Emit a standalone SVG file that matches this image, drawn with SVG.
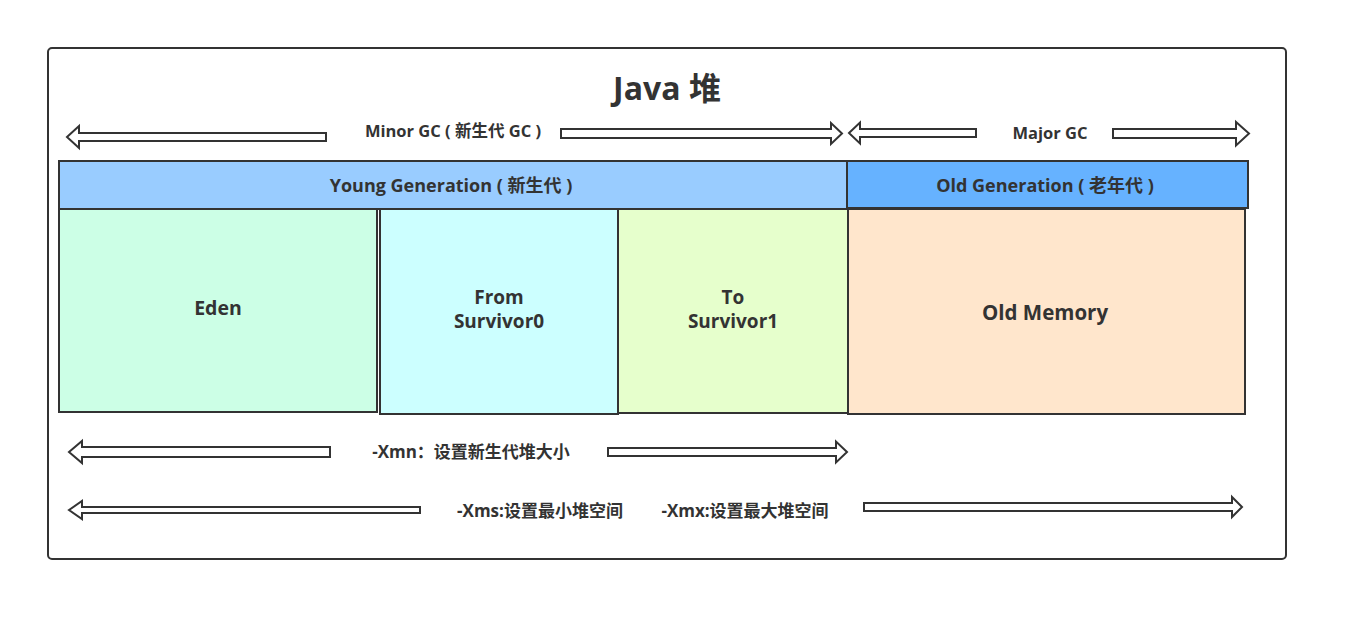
<svg xmlns="http://www.w3.org/2000/svg" width="1348" height="621" viewBox="0 0 1348 621">
<style>
.t{font-family:"Open Sans","Noto Sans CJK SC","Noto Sans",sans-serif;font-weight:bold;fill:#333;text-anchor:middle}
.box{stroke:#333;stroke-width:2}
.arr{fill:#fff;stroke:#333;stroke-width:2;stroke-linejoin:miter}
</style>
<rect width="1348" height="621" fill="#fff"/>
<g id="frame"><rect x="48" y="48" width="1238" height="511" rx="4" fill="#fff" stroke="#333" stroke-width="2"/></g>
<g id="title"><text class="t" x="667" y="100" font-size="32">Java 堆</text></g>
<g id="young-gen"><rect class="box" x="59" y="161" width="788" height="48" fill="#99CCFF"/><text class="t" x="451" y="192" font-size="18">Young Generation ( 新生代 )</text></g>
<g id="old-gen"><rect class="box" x="847" y="161" width="401" height="47" fill="#66B2FF"/><text class="t" x="1045" y="192" font-size="18">Old Generation ( 老年代 )</text></g>
<g id="eden"><rect class="box" x="59" y="209" width="318" height="203" fill="#CCFFE6"/><text class="t" x="218" y="315" font-size="19.5">Eden</text></g>
<g id="from"><rect class="box" x="380" y="209" width="238" height="205" fill="#CCFFFF"/><text class="t" x="499" y="304" font-size="19">From</text><text class="t" x="499" y="328" font-size="19">Survivor0</text></g>
<g id="to"><rect class="box" x="618" y="209" width="230" height="204" fill="#E6FFCC"/><text class="t" x="733" y="304" font-size="19">To</text><text class="t" x="733" y="328" font-size="19">Survivor1</text></g>
<g id="old-memory"><rect class="box" x="848" y="209" width="397" height="205" fill="#FFE6CC"/><text class="t" x="1045" y="320" font-size="20.5">Old Memory</text></g>
<g id="connectors">
<path class="arr" d="M67 137 L79 126 L79 133 L326 133 L326 141 L79 141 L79 148 Z"/>
<path class="arr" d="M842 133.5 L831 123 L831 129 L561 129 L561 138 L831 138 L831 144 Z"/>
<path class="arr" d="M849 133 L860 122.5 L860 129 L976 129 L976 137 L860 137 L860 143.5 Z"/>
<path class="arr" d="M1249 133.5 L1236 122 L1236 129 L1113 129 L1113 138 L1236 138 L1236 145.5 Z"/>
<path class="arr" d="M69 452 L82 441 L82 447 L330 447 L330 457 L82 457 L82 463 Z"/>
<path class="arr" d="M847 452 L836 441.5 L836 448 L608 448 L608 456 L836 456 L836 462.5 Z"/>
<path class="arr" d="M69 510 L82 501 L82 507 L420 507 L420 513 L82 513 L82 519 Z"/>
<path class="arr" d="M1242 507 L1232 497 L1232 503 L864 503 L864 511 L1232 511 L1232 517 Z"/>
</g>
<g id="labels">
<text class="t" x="453" y="137" font-size="16.5">Minor GC ( 新生代 GC )</text>
<text class="t" x="1050" y="139" font-size="16.5">Major GC</text>
<text class="t" x="471" y="458" font-size="17">-Xmn：设置新生代堆大小</text>
<text class="t" x="540" y="517" font-size="17">-Xms:设置最小堆空间</text>
<text class="t" x="745" y="517" font-size="17">-Xmx:设置最大堆空间</text>
</g>
</svg>
